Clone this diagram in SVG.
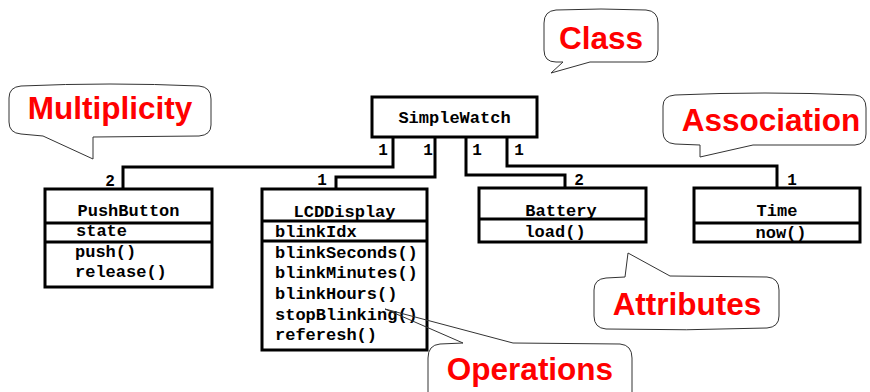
<svg xmlns="http://www.w3.org/2000/svg" width="870" height="392" viewBox="0 0 870 392">
<style>
.box{fill:#fff;stroke:#000;stroke-width:3}
.div{stroke:#000;stroke-width:3}
.conn{fill:none;stroke:#000;stroke-width:3}
.t{font-family:"Liberation Mono","Courier New",monospace;font-weight:bold;font-size:17px;fill:#000}
.c{text-anchor:middle}
.m{font-family:"Liberation Mono","Courier New",monospace;font-weight:bold;font-size:16px;fill:#000;text-anchor:middle}
.bub{fill:#fff;stroke:#333;stroke-width:1}
.bt{font-family:"Liberation Sans",Arial,sans-serif;font-weight:bold;font-size:31.5px;fill:#ff0000;text-anchor:middle}
</style>
<rect width="870" height="392" fill="#fff"/>
<g id="connectors">
<polyline class="conn" points="393,137 393,167 123,167 123,189"/>
<polyline class="conn" points="435,137 435,177 336,177 336,189"/>
<polyline class="conn" points="466,137 466,175 565,175 565,188"/>
<polyline class="conn" points="507,137 507,166 777,166 777,188"/>
<text class="m" x="383" y="155">1</text>
<text class="m" x="428" y="155">1</text>
<text class="m" x="477" y="155">1</text>
<text class="m" x="519" y="155">1</text>
<text class="m" x="110" y="186">2</text>
<text class="m" x="322" y="185">1</text>
<text class="m" x="579" y="185">2</text>
<text class="m" x="792" y="185">1</text>
</g>
<g id="SimpleWatch">
<rect class="box" x="372" y="97" width="165" height="40"/>
<text class="t c" x="454.5" y="123">SimpleWatch</text>
</g>
<g id="PushButton">
<rect class="box" x="45" y="189" width="167" height="98"/>
<line class="div" x1="45" y1="223" x2="212" y2="223"/>
<line class="div" x1="45" y1="242" x2="212" y2="242"/>
<text class="t c" x="128.5" y="216">PushButton</text>
<text class="t" x="76" y="236">state</text>
<text class="t" x="75" y="257">push()</text>
<text class="t" x="75" y="277">release()</text>
</g>
<g id="LCDDisplay">
<rect class="box" x="262" y="189" width="165" height="161"/>
<line class="div" x1="262" y1="221" x2="427" y2="221"/>
<line class="div" x1="262" y1="241" x2="427" y2="241"/>
<text class="t c" x="344.5" y="217">LCDDisplay</text>
<text class="t" x="275" y="237">blinkIdx</text>
<text class="t" x="275" y="258">blinkSeconds()</text>
<text class="t" x="275" y="278">blinkMinutes()</text>
<text class="t" x="275" y="299">blinkHours()</text>
<text class="t" x="275" y="320">stopBlinking()</text>
<text class="t" x="275" y="340">referesh()</text>
</g>
<g id="Battery">
<rect class="box" x="479" y="188" width="167" height="54"/>
<line class="div" x1="479" y1="219" x2="646" y2="219"/>
<text class="t c" x="561" y="216">Battery</text>
<text class="t c" x="555" y="237">load()</text>
</g>
<g id="Time">
<rect class="box" x="694" y="188" width="166" height="54"/>
<line class="div" x1="694" y1="223" x2="860" y2="223"/>
<text class="t c" x="777" y="216">Time</text>
<text class="t c" x="781" y="238">now()</text>
</g>
<g id="callout-class">
<path class="bub" d="M556,10 Q601,8 646,10 Q658,11 658,23 L658,50 Q658,62 646,62 L590,62 L551,73 L563,62 L556,62 Q544,62 544,50 L544,23 Q544,11 556,10 Z"/>
<text class="bt" x="601" y="49">Class</text>
</g>
<g id="callout-multiplicity">
<path class="bub" d="M21,86 Q110,82 199,86 Q211,87 211,99 L211,125 Q211,135 199,136 L93,137 L93,159 L43,136 L21,134 Q9,133 9,122 L9,98 Q9,87 21,86 Z"/>
<text class="bt" x="110" y="119">Multiplicity</text>
</g>
<g id="callout-association">
<path class="bub" d="M675,95 Q765,91 855,95 Q866,96 866,108 L866,134 Q866,144 855,145 L753,145 L700,157 L700,145 L675,144 Q663,143 663,132 L663,106 Q663,96 675,95 Z"/>
<text class="bt" x="771" y="131">Association</text>
</g>
<g id="callout-attributes">
<path class="bub" d="M606,278 L625,277 L628,253 L670,276 L767,277 Q779,278 779,290 L779,316 Q779,327 767,328 Q686,331 606,329 Q594,328 594,316 L594,290 Q594,279 606,278 Z"/>
<text class="bt" x="687" y="315">Attributes</text>
</g>
<g id="callout-operations">
<path class="bub" fill="none" style="fill:none" d="M428,400 L428,358 Q428,345 440,344 L463,343 L385,309 L513,343 L620,344 Q632,345 632,358 L632,400"/>
<text class="bt" x="530" y="380">Operations</text>
</g>
</svg>
